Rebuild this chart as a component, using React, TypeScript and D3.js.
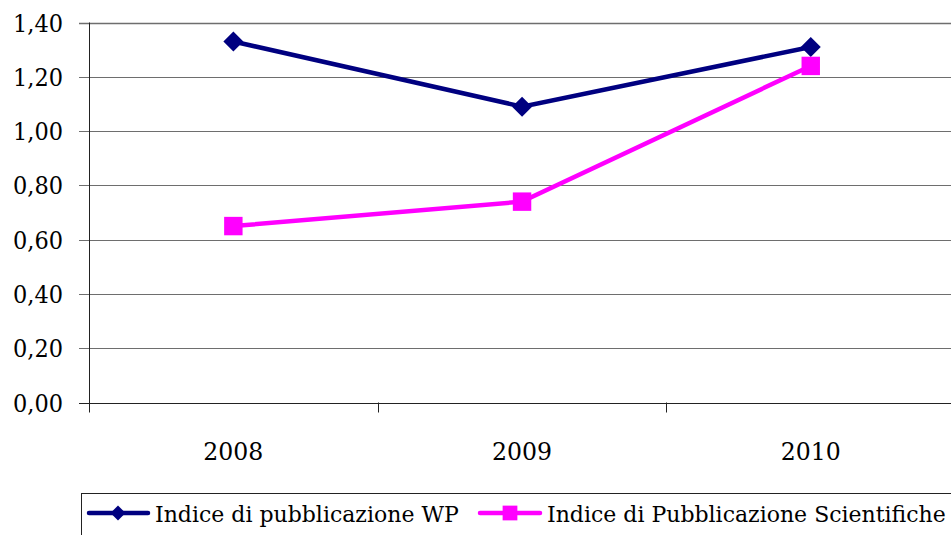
import React from 'react';
import { scaleBand, scaleLinear, line, symbol, symbolSquare } from 'd3';

const years = ['2008', '2009', '2010'];
const wpValues = [1.33, 1.09, 1.31];
const pubValues = [0.65, 0.74, 1.24];
const yTicks = [0, 0.2, 0.4, 0.6, 0.8, 1.0, 1.2, 1.4];
const seriesNames = ['Indice di pubblicazione WP', 'Indice di Pubblicazione Scientifiche'];

const W = 951;
const H = 535;
const left = 89;
const top = 22.5;
const bottom = 402.5;
const step = 288.7;
const font = 'DejaVu Serif';

const App: React.FC = () => {
  const x = scaleBand<string>()
    .domain(years)
    .range([left, left + step * years.length]);
  const y = scaleLinear().domain([0, 1.4]).range([bottom, top]);
  const cx = (d: string) => (x(d) as number) + x.bandwidth() / 2;

  const mkLine = line<number>()
    .x((_, i) => cx(years[i]))
    .y(d => y(d));

  // square symbol rotated 45deg gives the diamond marker
  const diamond = symbol().type(symbolSquare).size(200)();
  const square = symbol().type(symbolSquare).size(340)();
  const fmt = (v: number) => v.toFixed(2).replace('.', ',');

  return (
    <svg width={W} height={H} style={{ position: 'absolute', left: 0, top: 0, background: '#fff' }}>
      {/* grid */}
      {yTicks.map(t => (
        <line key={t} x1={left - 10} x2={W} y1={Math.round(y(t)) + 0.5} y2={Math.round(y(t)) + 0.5}
          stroke={t === 0 ? '#222' : '#6e6e6e'} strokeWidth={t === 1.4 ? 1.5 : 1} />
      ))}
      <line x1={left + 0.5} x2={left + 0.5} y1={top} y2={bottom + 0.5} stroke="#222" />
      {years.map(d => (
        <line key={'t' + d} x1={Math.round(x(d) as number) + 0.5} x2={Math.round(x(d) as number) + 0.5}
          y1={bottom} y2={bottom + 10} stroke="#222" />
      ))}
      {/* y labels */}
      {yTicks.map(t => (
        <text key={'l' + t} x={63} y={y(t) + 9} textAnchor="end" fontSize={25} fontFamily={font}
          textLength={50} lengthAdjust="spacingAndGlyphs">{fmt(t)}</text>
      ))}
      {/* x labels */}
      {years.map(d => (
        <text key={'x' + d} x={cx(d)} y={460} textAnchor="middle" fontSize={25} fontFamily={font}
          textLength={60} lengthAdjust="spacingAndGlyphs">{d}</text>
      ))}
      {/* series */}
      <path d={mkLine(wpValues) || ''} fill="none" stroke="#000080" strokeWidth={4.5} />
      <path d={mkLine(pubValues) || ''} fill="none" stroke="#ff00ff" strokeWidth={4.5} />
      {wpValues.map((v, i) => (
        <path key={'wd' + i} d={diamond || ''} transform={`translate(${cx(years[i])},${y(v)}) rotate(45)`} fill="#000080" />
      ))}
      {pubValues.map((v, i) => (
        <path key={'ps' + i} d={square || ''} transform={`translate(${cx(years[i])},${y(v)})`} fill="#ff00ff" />
      ))}
      {/* legend */}
      <rect x={81.5} y={493.5} width={900} height={60} fill="none" stroke="#222" />
      <line x1={89} x2={148} y1={513} y2={513} stroke="#000080" strokeWidth={4.5} strokeLinecap="round" />
      <path d={diamond || ''} transform="translate(118,513) rotate(45) scale(0.75)" fill="#000080" />
      <text x={155} y={522} fontSize={22} fontFamily={font}>{seriesNames[0]}</text>
      <line x1={480} x2={540} y1={513} y2={513} stroke="#ff00ff" strokeWidth={4.5} strokeLinecap="round" />
      <path d={square || ''} transform="translate(510,513) scale(0.8)" fill="#ff00ff" />
      <text x={547} y={522} fontSize={22} fontFamily={font}>{seriesNames[1]}</text>
    </svg>
  );
};

export default App;
